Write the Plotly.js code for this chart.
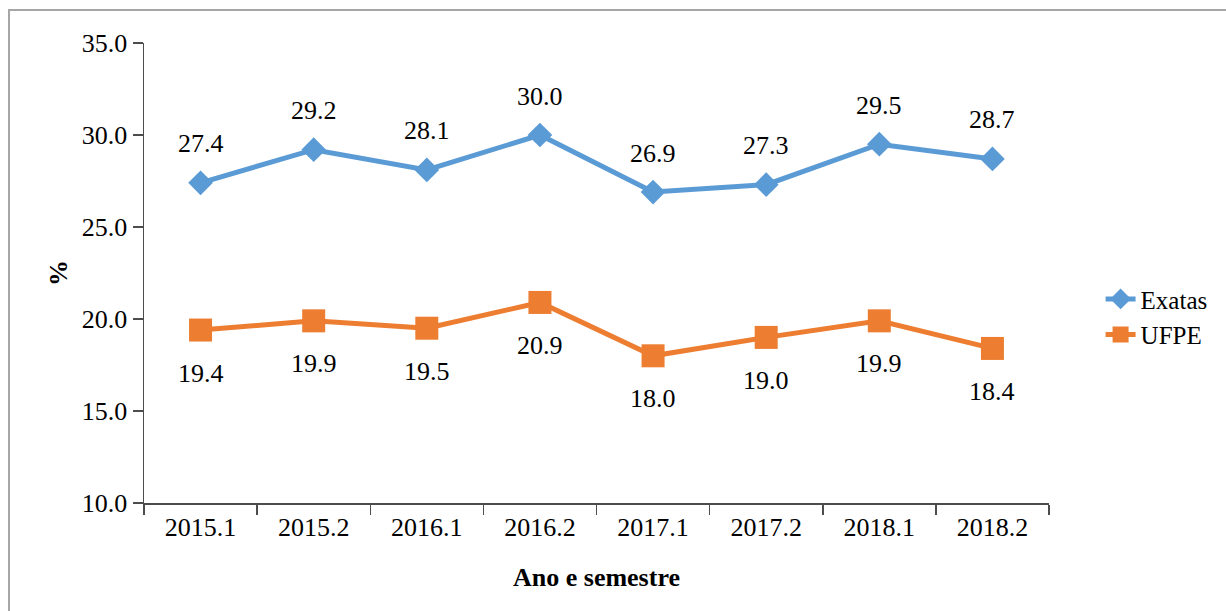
<!DOCTYPE html>
<html>
<head>
<meta charset="utf-8">
<script src="https://cdn.plot.ly/plotly-3.0.1.min.js"></script>
<style>
  html, body { margin: 0; padding: 0; background: #fff; }
  #wrap { position: relative; width: 1226px; height: 611px; overflow: hidden; }
  #chart { position: absolute; left: 0; top: 0; width: 1226px; height: 611px; }
  .bline { position: absolute; background: #a6a6a6; }
</style>
</head>
<body>
<div id="wrap">
  <div id="chart"></div>
  <div class="bline" style="left:8px; top:9px; width:1218px; height:2px;"></div>
  <div class="bline" style="left:8px; top:9px; width:2px; height:602px;"></div>
</div>
<script>
const categories = ["2015.1", "2015.2", "2016.1", "2016.2", "2017.1", "2017.2", "2018.1", "2018.2"];
const exatas = [27.4, 29.2, 28.1, 30.0, 26.9, 27.3, 29.5, 28.7];
const ufpe = [19.4, 19.9, 19.5, 20.9, 18.0, 19.0, 19.9, 18.4];
const seriesNames = ["Exatas", "UFPE"];

const FONT = "Liberation Serif";
const blue = "#5b9bd5";
const orange = "#ed7d31";
const axisColor = "#4d4d4d";

const traces = [
  {
    x: categories, y: exatas, name: seriesNames[0], type: "scatter", mode: "lines+markers",
    line: { color: blue, width: 5 },
    marker: { symbol: "diamond", size: 19, color: blue }
  },
  {
    x: categories, y: ufpe, name: seriesNames[1], type: "scatter", mode: "lines+markers",
    line: { color: orange, width: 5 },
    marker: { symbol: "square", size: 23, color: orange }
  }
];

const annotations = [];
categories.forEach((c, i) => {
  annotations.push({ xref: "x", yref: "y", x: i, y: exatas[i], text: exatas[i].toFixed(1), showarrow: false,
    yshift: 39, font: { family: FONT, size: 26, color: "#000" } });
  annotations.push({ xref: "x", yref: "y", x: i, y: ufpe[i], text: ufpe[i].toFixed(1), showarrow: false,
    yshift: -43, font: { family: FONT, size: 26, color: "#000" } });
});

const layout = {
  width: 1226, height: 611,
  paper_bgcolor: "rgba(0,0,0,0)", plot_bgcolor: "rgba(0,0,0,0)",
  margin: { l: 144, r: 177, t: 43, b: 108 },
  font: { family: FONT, size: 26, color: "#000" },
  showlegend: true,
  legend: { x: 1.057, y: 0.405, xanchor: "left", yanchor: "middle",
    font: { family: FONT, size: 25, color: "#000" }, tracegroupgap: 0, itemwidth: 30 },
  xaxis: {
    type: "category", range: [-0.5, 7.5], tickson: "boundaries",
    ticks: "outside", ticklen: 10, tickwidth: 1.5, tickcolor: axisColor,
    showline: true, linecolor: axisColor, linewidth: 1.5, showgrid: false, zeroline: false,
    tickfont: { family: FONT, size: 26, color: "#000" },
    title: { text: "<b>Ano e semestre</b>", font: { family: FONT, size: 26, color: "#000" }, standoff: 27 }
  },
  yaxis: {
    range: [10, 35], tickvals: [10, 15, 20, 25, 30, 35], ticktext: ["10.0", "15.0", "20.0", "25.0", "30.0", "35.0"],
    ticks: "outside", ticklen: 10, tickwidth: 1.5, tickcolor: axisColor,
    showline: true, linecolor: axisColor, linewidth: 1.5, showgrid: false, zeroline: false,
    tickfont: { family: FONT, size: 26, color: "#000" },
    title: { text: "<b>%</b>", font: { family: FONT, size: 26, color: "#000" }, standoff: 6 }
  },
  annotations: annotations
};

Plotly.newPlot("chart", traces, layout, { displayModeBar: false, staticPlot: true });
</script>
</body>
</html>
